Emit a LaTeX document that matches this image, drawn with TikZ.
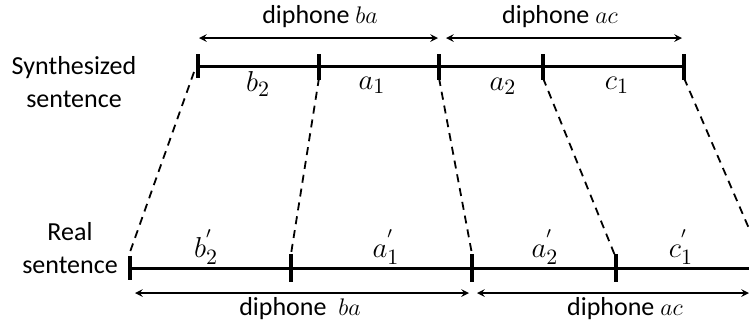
\documentclass[tikz,border=0pt]{standalone}
\usepackage{fontspec}
\setmainfont{Carlito}
\begin{document}
\begin{tikzpicture}[x=0.5pt, y=-0.5pt, font=\fontsize{13}{16.5}\selectfont,
    seglabel/.style={font=\fontsize{15.5}{18}\selectfont}]

    \useasboundingbox (0,0) rectangle (749,329);

    % Define coordinates of the segment boundaries (synthesized sentence)
    \coordinate (S1) at (198, 66);
    \coordinate (S2) at (319, 66);
    \coordinate (S3) at (439, 66);
    \coordinate (S4) at (543, 66);
    \coordinate (S5) at (684, 66);

    % Segment boundaries of the real sentence
    % The last boundary lies just past the right edge
    \coordinate (R1) at (130, 268);
    \coordinate (R2) at (291, 268);
    \coordinate (R3) at (472, 268);
    \coordinate (R4) at (616, 268);
    \coordinate (R5) at (760, 268);

    % Ends of the diphone arrows
    \coordinate (TBa) at (199, 38);
    \coordinate (TBb) at (438, 38);
    \coordinate (TAa) at (446, 38);
    \coordinate (TAb) at (682, 38);
    \coordinate (BBa) at (135, 293);
    \coordinate (BBb) at (469, 293);
    \coordinate (BAa) at (477, 293);
    \coordinate (BAb) at (749, 293);

    % Draw the two sentence lines
    \draw[line width=1.5pt] (S1) -- (S5);
    \draw[line width=1.5pt] (R1) -- (R5);

    % Draw the boundary ticks
    \draw[line width=1.9pt] ([yshift=6pt]S1) -- ([yshift=-6pt]S1);
    \draw[line width=1.9pt] ([yshift=6pt]S2) -- ([yshift=-7pt]S2);
    \draw[line width=1.9pt] ([yshift=6pt]S3) -- ([yshift=-7pt]S3);
    \draw[line width=1.9pt] ([yshift=6pt]S4) -- ([yshift=-7pt]S4);
    \draw[line width=1.9pt] ([yshift=6pt]S5) -- ([yshift=-7pt]S5);
    \draw[line width=1.9pt] ([yshift=6pt]R1) -- ([yshift=-6pt]R1);
    \draw[line width=1.9pt] ([yshift=7pt]R2) -- ([yshift=-7pt]R2);
    \draw[line width=1.9pt] ([yshift=7pt]R3) -- ([yshift=-7pt]R3);
    \draw[line width=1.9pt] ([yshift=7pt]R4) -- ([yshift=-7pt]R4);

    % Draw the dashed links between matching boundaries
    \draw[line width=0.9pt, dash pattern=on 4pt off 3pt] ([xshift=-2pt, yshift=-3pt]S1) -- ([yshift=8pt]R1);
    \draw[line width=0.9pt, dash pattern=on 4pt off 3pt] ([yshift=-6pt]S2) -- ([yshift=7pt]R2);
    \draw[line width=0.9pt, dash pattern=on 4pt off 3pt] ([yshift=-6pt]S3) -- ([yshift=7pt]R3);
    \draw[line width=0.9pt, dash pattern=on 4pt off 3pt] ([yshift=-6pt]S4) -- ([yshift=5pt]R4);
    \draw[line width=0.9pt, dash pattern=on 4pt off 3pt] ([yshift=-6pt]S5) -- ([yshift=7pt]R5);

    % Draw the diphone arrows
    \draw[<->, >=stealth, line width=0.7pt] (TBa) -- (TBb);
    \draw[<->, >=stealth, line width=0.7pt] (TAa) -- (TAb);
    \draw[<->, >=stealth, line width=0.7pt] (BBa) -- (BBb);
    \draw[<->, >=stealth, line width=0.7pt] (BAa) -- (BAb);

    % Add the diphone labels
    \node (topba) at (320, 17) {diphone $ba$};
    \node (topac) at (560, 17) {diphone $ac$};
    \node (botba) at (300, 309) {diphone\ \ $ba$};
    \node (botac) at (625, 309) {diphone $ac$};

    % Add the segment labels
    \node[seglabel] (lb2) at (258, 84) {$b_2$};
    \node[seglabel] (la1) at (372, 85) {$a_1$};
    \node[seglabel] (la2) at (503, 86) {$a_2$};
    \node[seglabel] (lc1) at (617, 85) {$c_1$};
    \node[seglabel] (lb2r) at (206, 247) {$b_2^{'}$};
    \node[seglabel] (la1r) at (386, 247) {$a_1^{'}$};
    \node[seglabel] (la2r) at (545, 247) {$a_2^{'}$};
    \node[seglabel] (lc1r) at (681, 247) {$c_1^{'}$};

    % Add the sentence names
    \node[align=center] (synth) at (74, 82) {Synthesized\\sentence};
    \node[align=center] (real) at (70, 248) {Real\\sentence};

\end{tikzpicture}
\end{document}
